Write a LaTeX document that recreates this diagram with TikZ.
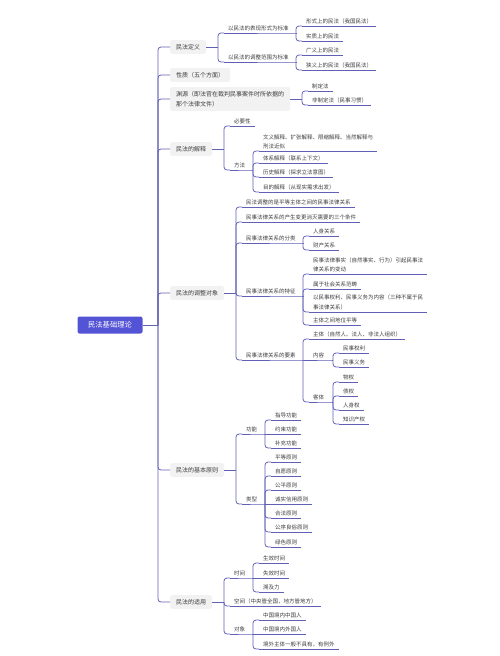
\documentclass[tikz,border=0pt]{standalone}
\usepackage{fontspec}
\newfontfamily\cjk{Noto Sans CJK SC}
\usetikzlibrary{calc}
\definecolor{linec}{RGB}{96,96,180}
\definecolor{rootc}{RGB}{83,83,214}
\definecolor{boxc}{RGB}{242,242,242}
\definecolor{ink}{RGB}{60,60,60}

\begin{document}
\begin{tikzpicture}[x=1pt,y=-1pt,
  every node/.style={font=\cjk\fontsize{5.5}{9.5}\selectfont,text=ink},
  root/.style={fill=rootc,text=white,rounded corners=2pt,minimum width=65pt,minimum height=17pt,font=\cjk\fontsize{7.3}{9}\selectfont},
  topic/.style={fill=boxc,rounded corners=1.5pt,anchor=west,inner xsep=6pt,inner ysep=4pt,align=left,font=\cjk\fontsize{6}{10}\selectfont},
  leaf/.style={anchor=south west,inner xsep=4pt,inner ysep=1.8pt,align=left},
  link/.style={draw=linec,line width=0.8pt,rounded corners=3pt}]
\useasboundingbox (0,0) rectangle (500,656);

\node[root] (root) at (110,325) {民法基础理论};
\coordinate (sp) at (158,325);

\node[topic] (def) at (170,47) {民法定义};
\node[topic] (nat) at (170,75) {性质（五个方面）};
\node[topic] (src) at (170,99) {渊源（即法官在裁判民事案件时所依据的\\那个法律文件）};
\node[topic] (interp) at (170,149) {民法的解释};
\node[topic] (obj) at (170,293) {民法的调整对象};
\node[topic] (prin) at (170,470) {民法的基本原则};
\node[topic] (app) at (170,602) {民法的适用};

\coordinate (jdef) at (218,47);
\coordinate (jsrc) at (302,99);
\coordinate (jint) at (224,149);
\coordinate (jobj) at (236,293);
\coordinate (jpri) at (236,470);
\coordinate (japp) at (224,602);

\node[leaf] (d1) at (224,33) {以民法的表现形式为标准};
\node[leaf] (d2) at (224,62) {以民法的调整范围为标准};
\coordinate (jd1) at (296,33);
\coordinate (jd2) at (296,62);
\node[leaf] (d11) at (302,26) {形式上的民法（我国民法）};
\node[leaf] (d12) at (302,41) {实质上的民法};
\node[leaf] (d21) at (302,55) {广义上的民法};
\node[leaf] (d22) at (302,70) {狭义上的民法（我国民法）};

\node[leaf] (s1) at (308,91) {制定法};
\node[leaf] (s2) at (308,105) {非制定法（民事习惯）};

\node[leaf] (i1) at (230,126) {必要性};
\node[leaf] (i2) at (230,170) {方法};
\coordinate (ji2) at (253,170);
\node[leaf] (i21) at (259,151) {文义解释、扩张解释、限缩解释、当然解释与\\刑法近似};
\node[leaf] (i22) at (259,163) {体系解释（联系上下文）};
\node[leaf] (i23) at (259,177) {历史解释（探求立法意图）};
\node[leaf] (i24) at (259,192) {目的解释（从现实需求出发）};

\node[leaf] (o1) at (242,207) {民法调整的是平等主体之间的民事法律关系};
\node[leaf] (o2) at (242,222) {民事法律关系的产生变更消灭需要的三个条件};
\node[leaf] (o3) at (242,243) {民事法律关系的分类};
\node[leaf] (o4) at (242,296) {民事法律关系的特征};
\node[leaf] (o5) at (242,360) {民事法律关系的要素};
\coordinate (jo3) at (303,243);
\coordinate (jo4) at (303,296);
\coordinate (jo5) at (303,360);
\node[leaf] (o31) at (309,236) {人身关系};
\node[leaf] (o32) at (309,250) {财产关系};
\node[leaf] (o41) at (309,274) {民事法律事实（自然事实、行为）引起民事法\\律关系的变动};
\node[leaf] (o42) at (309,289) {属于社会关系范畴};
\node[leaf] (o43) at (309,312) {以民事权利、民事义务为内容（三种不属于民\\事法律关系）};
\node[leaf] (o44) at (309,325) {主体之间地位平等};
\node[leaf] (o51) at (309,339) {主体（自然人、法人、非法人组织）};
\node[leaf] (o52) at (309,360) {内容};
\node[leaf] (o53) at (309,402) {客体};
\coordinate (jo52) at (333,360);
\coordinate (jo53) at (333,402);
\node[leaf] (o521) at (339,353) {民事权利};
\node[leaf] (o522) at (339,367) {民事义务};
\node[leaf] (o531) at (339,382) {物权};
\node[leaf] (o532) at (339,396) {债权};
\node[leaf] (o533) at (339,410) {人身权};
\node[leaf] (o534) at (339,424) {知识产权};

\node[leaf] (p1) at (242,434) {功能};
\node[leaf] (p2) at (242,504) {类型};
\coordinate (jp1) at (265,434);
\coordinate (jp2) at (265,504);
\node[leaf] (p11) at (271,420) {指导功能};
\node[leaf] (p12) at (271,434) {约束功能};
\node[leaf] (p13) at (271,448) {补充功能};
\node[leaf] (p21) at (271,462) {平等原则};
\node[leaf] (p22) at (271,476) {自愿原则};
\node[leaf] (p23) at (271,490) {公平原则};
\node[leaf] (p24) at (271,504) {诚实信用原则};
\node[leaf] (p25) at (271,518) {合法原则};
\node[leaf] (p26) at (271,532) {公序良俗原则};
\node[leaf] (p27) at (271,547) {绿色原则};

\node[leaf] (a1) at (230,578) {时间};
\node[leaf] (a2) at (230,606) {空间（中央管全国，地方管地方）};
\node[leaf] (a3) at (230,634) {对象};
\coordinate (ja1) at (253,578);
\coordinate (ja3) at (253,634);
\node[leaf] (a11) at (259,563) {生效时间};
\node[leaf] (a12) at (259,578) {失效时间};
\node[leaf] (a13) at (259,592) {溯及力};
\node[leaf] (a31) at (259,620) {中国境内中国人};
\node[leaf] (a32) at (259,634) {中国境内外国人};
\node[leaf] (a33) at (259,649) {境外主体一般不具有，有例外};

\draw[link] (root.east) -- (sp);
\foreach \t in {def,nat,src,interp,obj,prin,app} \draw[link] (sp) |- (\t.west);
\foreach \t/\j in {def/jdef,src/jsrc,interp/jint,obj/jobj,prin/jpri,app/japp} \draw[link] (\t.east) -- (\j);

\foreach \n/\j in {d1/jd1,d2/jd2,i2/ji2,o3/jo3,o4/jo4,o5/jo5,o52/jo52,o53/jo53,p1/jp1,p2/jp2,a1/ja1,a3/ja3}
  \draw[link] (\n.south west) -- (\n.south east) -- (\j);
\foreach \n in {d11,d12,d21,d22,s1,s2,i1,i21,i22,i23,i24,o1,o2,o31,o32,o41,o42,o43,o44,o51,o521,o522,o531,o532,o533,o534,p11,p12,p13,p21,p22,p23,p24,p25,p26,p27,a2,a11,a12,a13,a31,a32,a33}
  \draw[link] (\n.south west) -- (\n.south east);

\foreach \j/\c in {jdef/d1,jdef/d2,jd1/d11,jd1/d12,jd2/d21,jd2/d22,jsrc/s1,jsrc/s2,jint/i1,jint/i2,ji2/i21,ji2/i22,ji2/i23,ji2/i24,
  jobj/o1,jobj/o2,jobj/o3,jobj/o4,jobj/o5,jo3/o31,jo3/o32,jo4/o41,jo4/o42,jo4/o43,jo4/o44,jo5/o51,jo5/o53,jo52/o521,jo52/o522,
  jo53/o531,jo53/o532,jo53/o533,jo53/o534,jpri/p1,jpri/p2,jp1/p11,jp1/p13,jp2/p21,jp2/p22,jp2/p23,jp2/p25,jp2/p26,jp2/p27,
  japp/a1,japp/a2,japp/a3,ja1/a11,ja1/a13,ja3/a31,ja3/a33}
  \draw[link] (\j) |- (\c.south west);
\foreach \j/\c in {jo5/o52,jp1/p12,jp2/p24,ja1/a12,ja3/a32} \draw[link] (\j) -- (\c.south west);
\end{tikzpicture}
\end{document}
